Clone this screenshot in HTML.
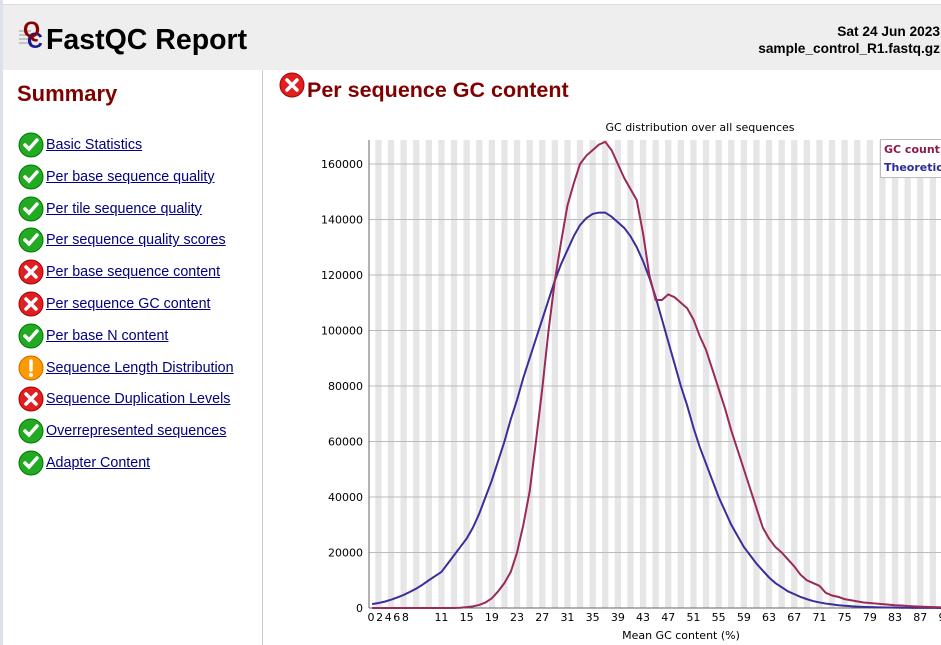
<!DOCTYPE html>
<html><head><meta charset="utf-8"><style>
body{margin:0;width:941px;height:645px;overflow:hidden;font-family:"Liberation Sans",sans-serif;background:#fff;position:relative}
.lb{position:absolute;left:0;top:0;width:3px;height:645px;background:#dde2ea}
.hdr{position:absolute;left:3px;top:4px;width:938px;height:65px;background:#eee;border-top:1px solid #ddd}
.title{position:absolute;left:43px;top:19px;font-size:28.5px;font-weight:bold;color:#000}
.date{position:absolute;right:1px;top:18px;text-align:right;font-size:13.7px;font-weight:bold;line-height:17px}
.side{position:absolute;left:3px;top:70px;width:259px;height:575px;border-right:1px solid #ccc}
.side h2{position:absolute;left:14px;top:11px;margin:0;font-size:22px;color:#800000}
.item{position:absolute;left:15px;height:26px;display:flex;align-items:center}
.item a{color:#000080;font-size:14.3px;margin-left:2px;text-decoration:underline}
.ic{width:26px;height:26px}
.mh{position:absolute;left:279px;top:72px;display:flex;align-items:flex-start}
.mh span{font-size:21.5px;font-weight:bold;color:#800000;margin-left:2px;margin-top:6px}
</style></head><body>
<div class="lb"></div>
<div class="hdr">
<svg style="position:absolute;left:14px;top:12px" width="32" height="34">
<g stroke="#999" stroke-width="1"><line x1="2" y1="14" x2="14" y2="14"/><line x1="2" y1="18" x2="14" y2="18"/><line x1="2" y1="22" x2="14" y2="22"/><line x1="2" y1="26" x2="14" y2="26"/></g>
<text x="10" y="31" font-size="22" font-weight="bold" fill="#1a1a8a" font-family="Liberation Sans">C</text>
<text x="6" y="20" font-size="22" font-weight="bold" fill="#8b0000" font-family="Liberation Sans">Q</text></svg>
<div class="title">FastQC Report</div>
<div class="date">Sat 24 Jun 2023<br>sample_control_R1.fastq.gz</div>
</div>
<div class="side"><h2>Summary</h2><div id="items"></div></div>
<div class="mh"><svg class="ic" viewBox="0 0 26 26"><circle cx="13" cy="13" r="12" fill="#e02020" stroke="#a00" /><path d="M8 8L18 18M18 8L8 18" stroke="#fff" stroke-width="3.5" stroke-linecap="round"/></svg><span>Per sequence GC content</span></div>
<svg id="chart" style="position:absolute;left:0;top:0" width="941" height="645"></svg>
<script>
const mods=[["Basic Statistics","p"],["Per base sequence quality","p"],["Per tile sequence quality","p"],["Per sequence quality scores","p"],["Per base sequence content","f"],["Per sequence GC content","f"],["Per base N content","p"],["Sequence Length Distribution","w"],["Sequence Duplication Levels","f"],["Overrepresented sequences","p"],["Adapter Content","p"]];
function icon(t){
 if(t=="p")return '<svg class="ic" viewBox="0 0 26 26"><circle cx="13" cy="13" r="12" fill="#2a2" stroke="#070"/><path d="M7 13l4 4 8-9" stroke="#fff" stroke-width="3.5" fill="none" stroke-linecap="round"/></svg>';
 if(t=="f")return '<svg class="ic" viewBox="0 0 26 26"><circle cx="13" cy="13" r="12" fill="#e02020" stroke="#a00"/><path d="M8 8L18 18M18 8L8 18" stroke="#fff" stroke-width="3.5" stroke-linecap="round"/></svg>';
 return '<svg class="ic" viewBox="0 0 26 26"><circle cx="13" cy="13" r="12" fill="#f90" stroke="#c60"/><path d="M13 6v9" stroke="#fff" stroke-width="3.5" stroke-linecap="round"/><circle cx="13" cy="20" r="2" fill="#fff"/></svg>';
}
const box=document.getElementById('items');
mods.forEach((m,i)=>{const d=document.createElement('div');d.className='item';d.style.top=(62+i*31.8)+'px';


d.innerHTML=icon(m[1])+'<a>'+m[0]+'</a>';box.appendChild(d);});

const gcCount=[0,0,0,0,0,0,0,0,0,0,0,0,0,0,100,300,600,1100,2000,3500,6000,9000,13000,20000,30000,42000,60000,79000,100000,118000,132000,145000,153000,160000,163000,165000,167000,168000,165000,160000,155000,151000,147000,135000,120000,111000,111000,113000,112000,110000,108000,104000,98000,93000,86000,79000,72000,64000,57000,50000,43000,36000,29000,25000,22000,20000,17500,15000,12000,10000,9000,8000,5500,4500,4000,3200,2800,2400,2000,1800,1600,1400,1200,1000,900,700,600,500,400,300,250,200];
const theory=[1400,1800,2300,3000,3800,4700,5800,7000,8400,10000,11500,13000,16000,19000,22000,25000,29000,34000,40000,46000,53000,60000,68000,75000,83000,90000,97000,104000,111000,118000,124000,129000,134000,138000,140500,142000,142500,142500,141000,139000,137000,134000,130000,125000,119000,112000,104000,96000,88000,80000,73000,65000,58000,52000,46000,40000,35000,30000,26000,22000,19000,16000,13500,11000,9000,7500,6000,5000,4000,3200,2500,2000,1600,1300,1000,800,650,500,400,320,260,200,160,120,100,80,60,50,40,30,20,10];
const xLabels=["0","2","4","6","8","11","15","19","23","27","31","35","39","43","47","51","55","59","63","67","71","75","79","83","87","91"];
const yTicks=[0,20000,40000,60000,80000,100000,120000,140000,160000];
const NS="http://www.w3.org/2000/svg",svg=document.getElementById('chart');
const X0=369,BW=6.3,Y0=608,YT=140,XR=941;
const x=i=>X0+(i+0.5)*BW, y=v=>Y0-v*444/160000;
function el(t,a,p){const e=document.createElementNS(NS,t);for(const k in a)e.setAttribute(k,a[k]);(p||svg).appendChild(e);return e;}
for(let i=1;i<100;i+=2){const s=el('rect',{x:X0+i*BW,y:YT,width:BW,height:Y0-YT,fill:'#e6e6e6'});

}
yTicks.forEach(v=>{const g=el('line',{x1:X0,x2:XR,y1:y(v),y2:y(v),stroke:'#bbb'});


const t=el('text',{x:363,y:y(v)+4,'text-anchor':'end','font-size':'11','font-family':'DejaVu Sans'});t.textContent=v;

});
xLabels.forEach(l=>{const n=+l;let px=n<=8?371+n*4.3:x(n);const t=el('text',{x:px,y:621,'text-anchor':'middle','font-size':'11','font-family':'DejaVu Sans'});t.textContent=l;

});
el('line',{x1:X0,x2:X0,y1:YT,y2:Y0,stroke:'#666'});
el('line',{x1:X0,x2:XR,y1:Y0,y2:Y0,stroke:'#666'});
function line(d,c,name){const p=el('polyline',{points:d.map((v,i)=>x(i)+','+y(v)).join(' '),fill:'none',stroke:c,'stroke-width':'2'});

}
line(theory,'#3a2f9a','theoretical-line');
line(gcCount,'#9a2a5a','gc-count-line');
const tt=el('text',{x:700,y:131,'text-anchor':'middle','font-size':'11','font-family':'DejaVu Sans'});tt.textContent='GC distribution over all sequences';


const xt=el('text',{x:681,y:639,'text-anchor':'middle','font-size':'11','font-family':'DejaVu Sans'});xt.textContent='Mean GC content (%)';


const lg=el('rect',{x:880.5,y:139.5,width:70,height:38,fill:'#fff',stroke:'#bbb'});


const l1=el('text',{x:884,y:153,'font-size':'11','font-weight':'bold',fill:'#8b1a4a','font-family':'DejaVu Sans'});l1.textContent='GC count per read';


const l2=el('text',{x:884,y:171,'font-size':'11','font-weight':'bold',fill:'#2a2a9a','font-family':'DejaVu Sans'});l2.textContent='Theoretical Distribution';


</script>
</body></html>
